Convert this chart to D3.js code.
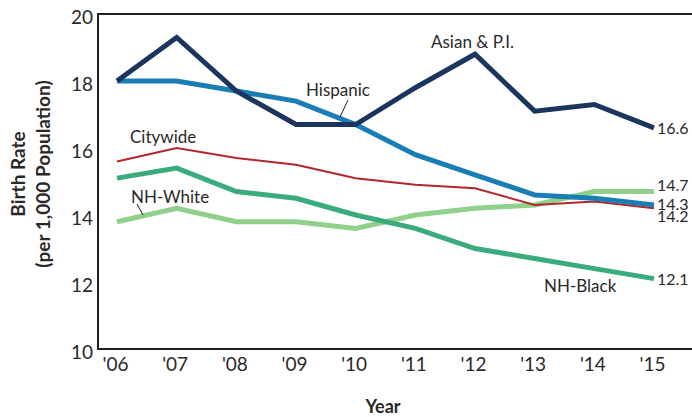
<!DOCTYPE html>
<html><head><meta charset="utf-8">
<script src="https://cdn.jsdelivr.net/npm/d3@7"></script>
<style>
html,body{margin:0;padding:0;background:#fff;}
text{font-family:Lato,"Open Sans",sans-serif;fill:#2b2828;}
</style></head>
<body><svg id="chart" width="692" height="417"></svg>
<script>
const years = ["'06","'07","'08","'09","'10","'11","'12","'13","'14","'15"];
const yTicks = [10,12,14,16,18,20];
const asian    = [18.0,19.3,17.7,16.7,16.7,17.8,18.8,17.1,17.3,16.6];
const hispanic = [18.0,18.0,17.7,17.4,16.7,15.8,15.2,14.6,14.5,14.3];
const citywide = [15.6,16.0,15.7,15.5,15.1,14.9,14.8,14.3,14.4,14.2];
const nhBlack  = [15.1,15.4,14.7,14.5,14.0,13.6,13.0,12.7,12.4,12.1];
const nhWhite  = [13.8,14.2,13.8,13.8,13.6,14.0,14.2,14.3,14.7,14.7];
const seriesNames = ["NH-White","NH-Black","Citywide","Hispanic","Asian & P.I."];
const seriesValues = [nhWhite,nhBlack,citywide,hispanic,asian];
const seriesColors = ["#8fd08a","#3aab7c","#b3262d","#1a7db3","#1b355f"];
const seriesWidths = [5,5,2,5,5];
const endLabels = ["14.7","12.1","14.2","14.3","16.6"];

const svg = d3.select("#chart");
const x = d3.scalePoint().domain(years).range([117,654]);
const y = d3.scaleLinear().domain([10,20]).range([349,14]);

// frame
svg.append("line").attr("x1",98).attr("x2",692).attr("y1",14).attr("y2",14).attr("stroke","#231f20").attr("stroke-width",2);
svg.append("line").attr("x1",98).attr("x2",692).attr("y1",349).attr("y2",349).attr("stroke","#231f20").attr("stroke-width",2);
svg.append("line").attr("x1",98).attr("x2",98).attr("y1",13).attr("y2",350).attr("stroke","#231f20").attr("stroke-width",2);

const yAxis = svg.append("g").attr("transform","translate(98,0)")
  .call(d3.axisLeft(y).tickValues(yTicks).tickSize(0).tickPadding(5));
yAxis.select(".domain").remove();
yAxis.selectAll("text").attr("font-size",19).attr("dy","0.5em").style("font-family","Lato,'Open Sans',sans-serif").attr("fill","#2b2828");

const xAxis = svg.append("g").attr("transform","translate(-2,349)")
  .call(d3.axisBottom(x).tickSize(0).tickPadding(9));
xAxis.select(".domain").remove();
xAxis.selectAll("text").attr("font-size",19).style("font-family","Lato,'Open Sans',sans-serif").attr("fill","#2b2828");

// lines
const line = d3.line().x((d,i)=>x(years[i])).y(d=>y(d));
seriesValues.forEach((vals,k)=>{
  svg.append("path").datum(vals).attr("d",line).attr("fill","none")
    .attr("stroke",seriesColors[k]).attr("stroke-width",seriesWidths[k])
    .attr("stroke-linejoin","miter").attr("stroke-linecap","butt");
});

// end labels
const endOffsets = [-6,1,8,-1,0];
seriesValues.forEach((vals,k)=>{
  svg.append("text").attr("x",x(years[9])+3).attr("y",y(vals[9])+endOffsets[k])
    .attr("dy","0.35em").attr("font-size",16).text(endLabels[k]);
});

// series labels
const lab = (t,xx,yy)=>svg.append("text").attr("x",xx).attr("y",yy).attr("font-size",17).attr("dy","0.35em").text(t);
lab("Asian & P.I.",431,42);
lab("Hispanic",306,90);
lab("Citywide",130,137);
lab("NH-White",131,197);
lab("NH-Black",544,286);
svg.append("line").attr("x1",348).attr("y1",100).attr("x2",340).attr("y2",117).attr("stroke","#231f20").attr("stroke-width",1);
svg.append("line").attr("x1",137).attr("y1",204).attr("x2",143).attr("y2",215).attr("stroke","#231f20").attr("stroke-width",1);

// axis titles
svg.append("text").attr("x",383).attr("y",407).attr("dy","0.35em").attr("text-anchor","middle")
  .attr("font-size",18).attr("font-weight","bold").text("Year");
svg.append("text").attr("transform","translate(18,174) rotate(-90)").attr("text-anchor","middle").attr("dy","0.35em")
  .attr("font-size",19).attr("font-weight","bold").text("Birth Rate");
svg.append("text").attr("transform","translate(43,174) rotate(-90)").attr("text-anchor","middle").attr("dy","0.35em")
  .attr("font-size",19).attr("font-weight","bold").text("(per 1,000 Population)");
</script></body></html>
